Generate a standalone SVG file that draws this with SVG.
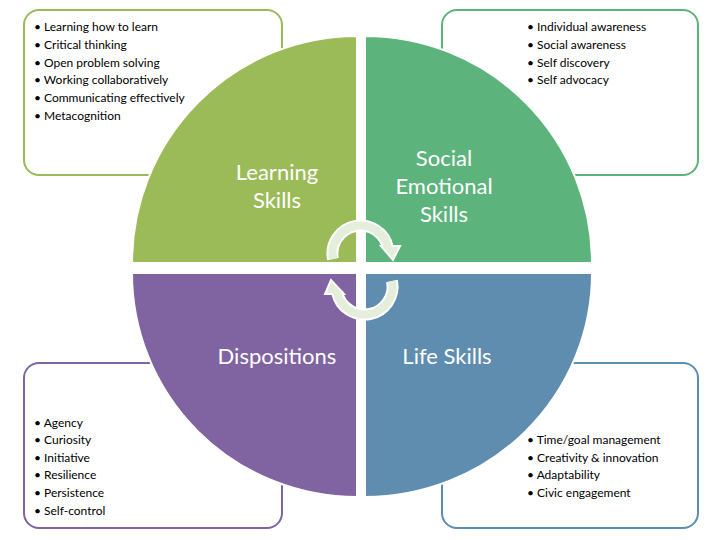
<svg xmlns="http://www.w3.org/2000/svg" width="720" height="540" viewBox="0 0 720 540">
<style>
.box{fill:#fff;stroke-width:2}
.li{font-family:Lato,"Open Sans",sans-serif;font-size:12px;fill:#000}
.big{font-family:Lato,"Open Sans",sans-serif;font-size:22px;fill:#fff;text-anchor:middle}
.q{stroke:#fff;stroke-width:2}
.arcw{fill:none;stroke:#fff;stroke-width:12}
.arc{fill:none;stroke:#e4eedb;stroke-width:8}
</style>
<rect width="720" height="540" fill="#fff"/>
<g id="box-learning"><rect class="box" x="24" y="10" width="258" height="165" rx="15" stroke="#9bbb59"/>
<text class="li" x="34" y="31">• Learning how to learn</text>
<text class="li" x="34" y="49">• Critical thinking</text>
<text class="li" x="34" y="67">• Open problem solving</text>
<text class="li" x="34" y="84">• Working collaboratively</text>
<text class="li" x="34" y="102">• Communicating effectively</text>
<text class="li" x="34" y="120">• Metacognition</text></g>
<g id="box-social"><rect class="box" x="442" y="10" width="256" height="165" rx="15" stroke="#5cb37c"/>
<text class="li" x="527" y="31">• Individual awareness</text>
<text class="li" x="527" y="49">• Social awareness</text>
<text class="li" x="527" y="67">• Self discovery</text>
<text class="li" x="527" y="84">• Self advocacy</text></g>
<g id="box-disp"><rect class="box" x="24" y="363" width="258" height="165" rx="15" stroke="#8064a2"/>
<text class="li" x="34" y="427">• Agency</text>
<text class="li" x="34" y="444">• Curiosity</text>
<text class="li" x="34" y="462">• Initiative</text>
<text class="li" x="34" y="479">• Resilience</text>
<text class="li" x="34" y="497">• Persistence</text>
<text class="li" x="34" y="515">• Self-control</text></g>
<g id="box-life"><rect class="box" x="442" y="363" width="256" height="165" rx="15" stroke="#5f8db0"/>
<text class="li" x="527" y="444">• Time/goal management</text>
<text class="li" x="527" y="462">• Creativity &amp; innovation</text>
<text class="li" x="527" y="479">• Adaptability</text>
<text class="li" x="527" y="497">• Civic engagement</text></g>
<g id="learning"><path class="q" d="M357 263 H132 A225 227 0 0 1 357 36 Z" fill="#9bbb59"/>
<text class="big" x="277" y="180">Learning</text><text class="big" x="277" y="208">Skills</text></g>
<g id="social"><path class="q" d="M365 263 V36 A227 227 0 0 1 592 263 Z" fill="#5cb47c"/>
<text class="big" x="444" y="166">Social</text><text class="big" x="444" y="194">Emotional</text><text class="big" x="444" y="222">Skills</text></g>
<g id="dispositions"><path class="q" d="M357 273 V497 A225 224 0 0 1 132 273 Z" fill="#8064a2"/>
<text class="big" x="277" y="364">Dispositions</text></g>
<g id="life"><path class="q" d="M365 273 H592 A227 224 0 0 1 365 497 Z" fill="#5f8db0"/>
<text class="big" x="447" y="364">Life Skills</text></g>
<g id="connectors">
<path class="arcw" d="M333 259 A28 28 0 0 1 388 248"/>
<path d="M381 246 L400 246 L393 260 Z" fill="#e4eedb" stroke="#fff" stroke-width="2"/>
<path class="arc" d="M333 259 A28 28 0 0 1 388 248"/>
<path class="arcw" d="M392 281 A28 28 0 0 1 337 292"/>
<path d="M344 294 L325 294 L331 280 Z" fill="#e4eedb" stroke="#fff" stroke-width="2"/>
<path class="arc" d="M392 281 A28 28 0 0 1 337 292"/>
</g>
</svg>
